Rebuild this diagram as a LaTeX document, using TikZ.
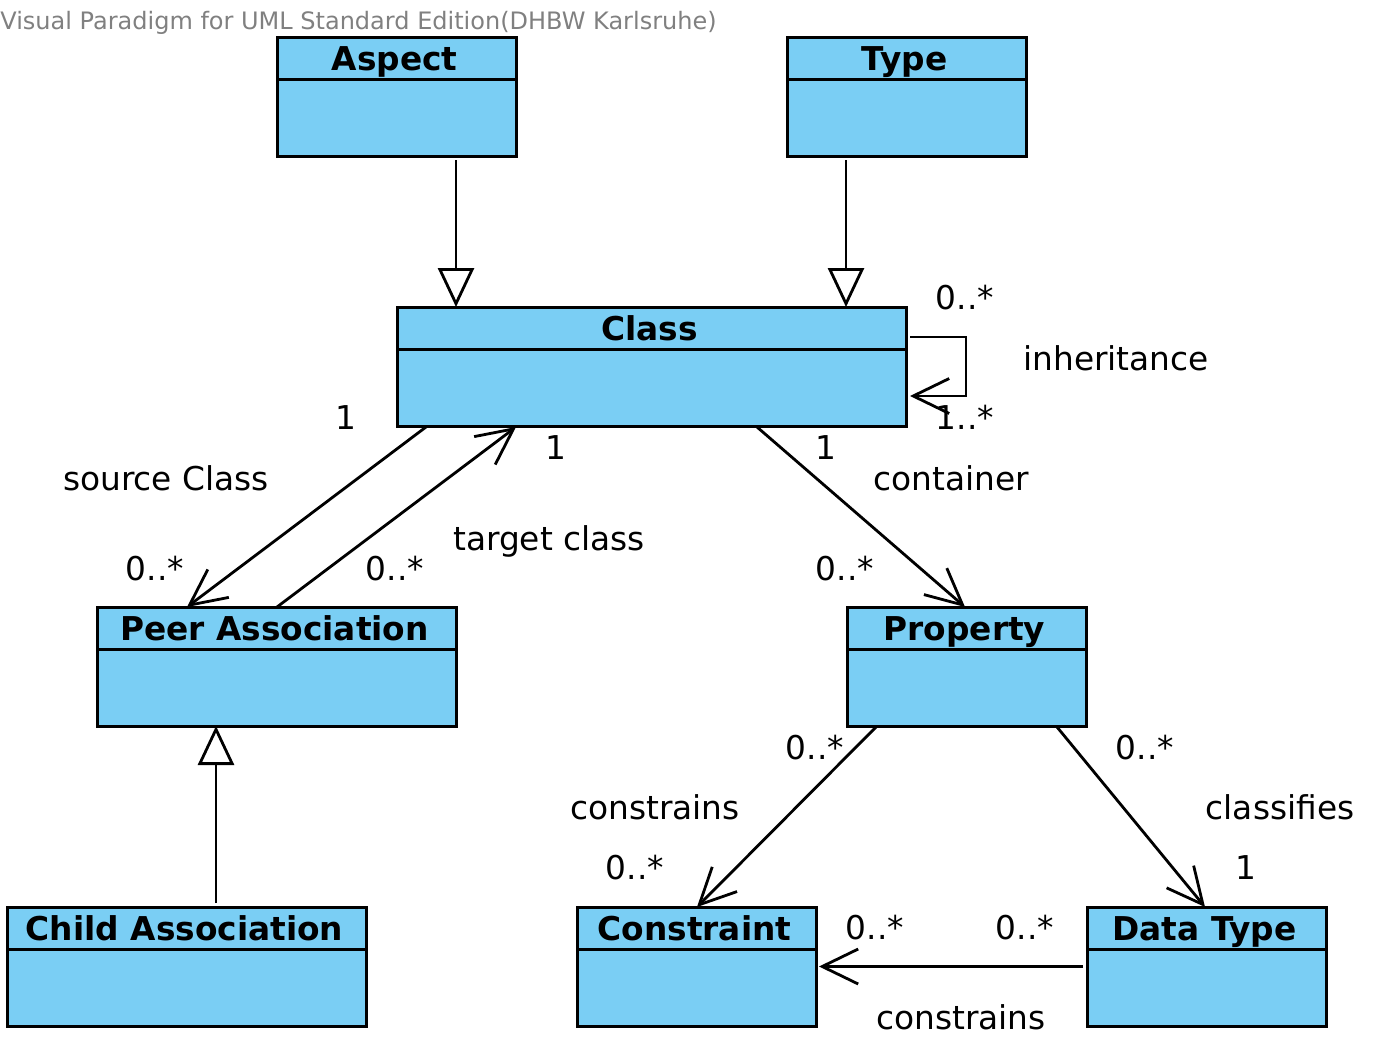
\documentclass[tikz,border=0pt]{standalone}
\usepackage{fontspec}
\setmainfont{DejaVu Sans}
\usetikzlibrary{arrows.meta,calc}
\definecolor{classBlue}{RGB}{122,206,244}
\definecolor{markGray}{RGB}{128,128,128}

\begin{document}
\begin{tikzpicture}
[x=0.5pt,y=-0.5pt,
  classBox/.style={draw,line width=1.5pt,fill=classBlue,inner sep=0pt,outer sep=0pt,minimum height=59.5pt},%
  boxLine/.style={line width=1.5pt},%
  titleText/.style={anchor=base,inner sep=0pt,font=\fontsize{16.4pt}{19pt}\bfseries},%
  multLabel/.style={anchor=base,inner sep=0pt,font=\fontsize{16.4pt}{19pt}\selectfont},%
  assocLine/.style={line width=1.4pt,-{Straight Barb[length=18pt,width=17.5pt]}},%
  genLine/.style={line width=1.4pt,-{Triangle[open,length=19.5pt,width=18pt,fill=white]}}]
\useasboundingbox (0,0) rectangle (1398,1050);
\node (watermark) at (0,29) [anchor=base west,inner sep=0pt,text=markGray,font=\fontsize{12pt}{14pt}\selectfont]
  {Visual Paradigm for UML Standard Edition(DHBW Karlsruhe)};
%% draw the classes
\foreach \nodename/\x/\y/\w/\title in {aspect/396.5/96.5/119.5pt/Aspect,
  type/906.5/96.5/119.5pt/Type, class/651.5/366.5/254.5pt/Class,
  peer/276.5/666.5/179.5pt/Peer Association, property/966.5/666.5/119.5pt/Property,
  child/186.5/966.5/179.5pt/Child Association, constraint/696.5/966.5/119.5pt/Constraint,
  datatype/1206.5/966.5/119.5pt/Data Type}
{
  \node (\nodename) at (\x,\y) [classBox,minimum width=\w] {};
  \draw[boxLine] ($(\nodename.north west)+(0,42)$) -- ($(\nodename.north east)+(0,42)$);
  \node (\nodename Title) at ($(\nodename.north)+(-2,33)$) [titleText] {\title};
}
%% draw the generalizations
\draw[genLine] ($(aspect.south west)+(179,4)$) -- ($(class.north west)+(59,0)$);
\draw[genLine] ($(type.south west)+(59,4)$) -- ($(class.north west)+(449,0)$);
\draw[genLine] ($(child.north west)+(209,-4)$) -- ($(peer.south west)+(119,0)$);
%% draw the associations
\draw[assocLine] ($(class.south west)+(29,1)$) -- ($(peer.north west)+(90,0)$);
\draw[assocLine] ($(peer.north west)+(180,0)$) -- ($(class.south west)+(119,1)$);
\draw[assocLine] ($(class.south west)+(360,1)$) -- ($(property.north west)+(118,0)$);
\draw[assocLine] ($(class.north east)+(4,30)$) -- ++(56,0) -- ++(0,59) -- ++(-56,0);
\draw[assocLine] ($(property.south west)+(29,1)$) -- ($(constraint.north west)+(120,0)$);
\draw[assocLine] ($(property.south west)+(210,1)$) -- ($(datatype.north west)+(118,0)$);
\draw[assocLine] ($(datatype.west)+(-4,0)$) -- ($(constraint.east)+(3,0)$);
%% draw the labels
\foreach \labname/\x/\y/\txt in {srcOne/346/429/1, srcMany/155/580/0..*,
  srcRole/166/490/source Class, tgtOne/556/459/1, tgtMany/395/580/0..*,
  tgtRole/549/550/target class, contOne/826/459/1, contMany/845/580/0..*,
  contRole/951/490/container, inhFrom/965/309/0..*, inhTo/965/429/1..*,
  inhRole/1116/370/inheritance, consFrom/815/759/0..*, consRole/655/819/constrains,
  consTo/635/879/0..*, clsFrom/1145/759/0..*, clsRole/1280/819/classifies,
  clsTo/1246/879/1, dtConsTo/875/939/0..*, dtConsFrom/1025/939/0..*,
  dtConsRole/961/1029/constrains}
{
  \node (\labname) at (\x,\y) [multLabel] {\txt};
}
\end{tikzpicture}
\end{document}
